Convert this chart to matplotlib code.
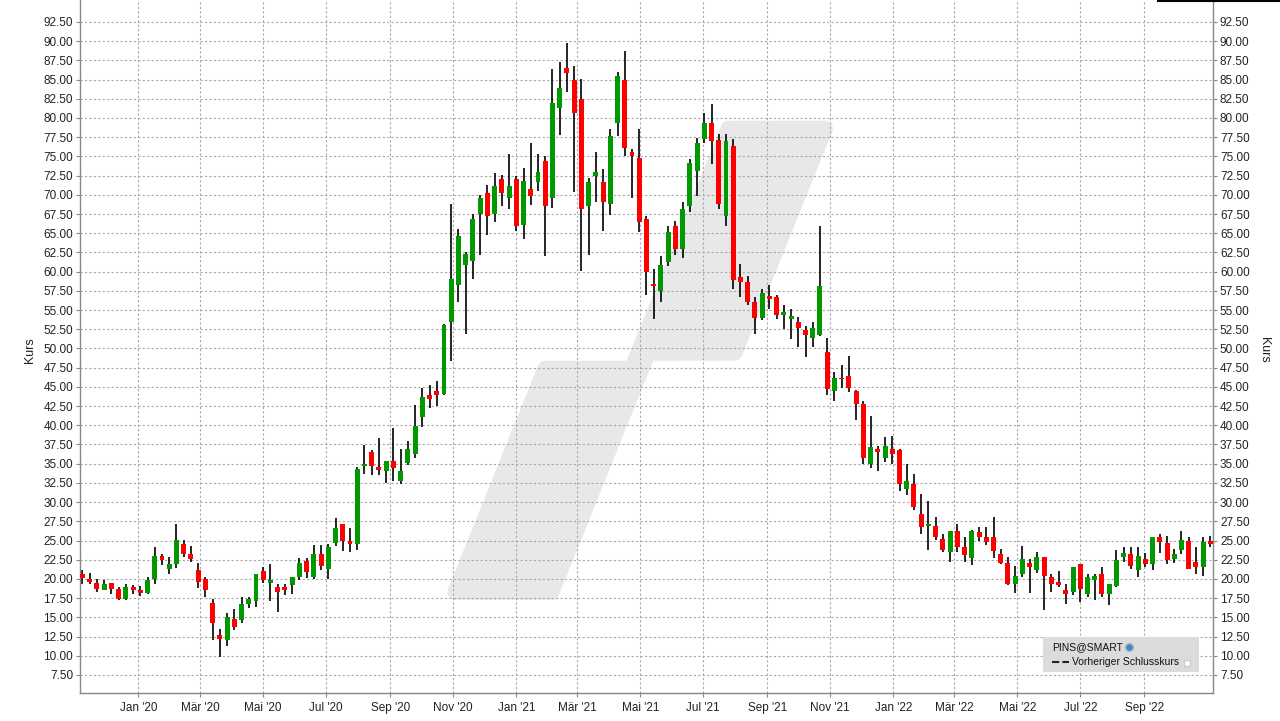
import numpy as np
import pandas as pd
import matplotlib

matplotlib.use('Agg')
import matplotlib.pyplot as plt
import matplotlib.dates as mdates
from matplotlib.patches import Polygon, Rectangle
from matplotlib.lines import Line2D

# weekly candles (PINS), first week ending 2019-11-08
FIRST_WEEK = '2019-11-08'
opens = [20.7, 20.0, 19.5, 18.6, 19.5, 18.7, 17.4, 19.0, 18.5, 18.2,
         20.0, 23.0, 21.3, 22.0, 24.6, 23.2, 21.2, 20.0, 16.9, 12.7,
         12.1, 14.8, 14.6, 16.8, 17.1, 21.0, 19.5, 19.0, 18.9, 19.2,
         20.2, 22.3, 20.2, 23.3, 21.3, 24.7, 27.1, 25.0, 24.5, 34.7,
         36.5, 34.6, 34.1, 35.4, 32.8, 35.1, 36.3, 41.1, 44.0, 44.5,
         44.1, 53.4, 58.2, 60.9, 61.4, 67.5, 70.3, 67.5, 72.1, 69.6,
         72.0, 66.1, 70.8, 71.7, 74.4, 69.6, 81.3, 86.5, 85.0, 82.5,
         68.6, 72.4, 71.7, 68.8, 79.4, 85.0, 75.6, 74.8, 66.8, 58.4,
         57.5, 61.2, 66.0, 62.9, 68.5, 73.1, 77.3, 79.4, 77.2, 67.3,
         76.3, 59.3, 58.6, 56.1, 53.9, 56.8, 56.7, 54.3, 53.8, 53.4,
         52.4, 51.3, 51.7, 49.6, 44.5, 46.2, 46.4, 44.5, 42.8, 35.0,
         36.9, 35.7, 36.9, 36.8, 31.7, 32.3, 28.5, 26.9, 26.9, 25.2,
         23.5, 26.3, 24.2, 22.7, 26.1, 25.5, 25.5, 23.2, 22.1, 19.4,
         20.6, 22.1, 21.1, 22.8, 20.3, 19.6, 18.5, 18.3, 21.9, 18.1,
         19.8, 20.7, 18.1, 19.1, 22.8, 23.2, 21.2, 22.6, 21.9, 25.4,
         24.7, 22.6, 23.8, 25.0, 22.2, 21.5, 25.0]
highs = [21.1, 20.8, 20.0, 19.9, 19.5, 19.0, 19.4, 19.2, 19.1, 20.3,
         24.1, 23.2, 22.9, 27.2, 25.1, 24.3, 22.1, 20.2, 17.4, 13.5,
         15.6, 16.1, 17.7, 17.7, 20.7, 21.5, 22.0, 19.3, 19.4, 20.3,
         22.7, 22.7, 24.4, 24.4, 24.5, 27.9, 27.2, 26.6, 34.6, 37.4,
         36.8, 38.3, 35.4, 39.6, 36.9, 37.9, 42.6, 44.8, 45.2, 45.8,
         53.2, 68.8, 65.5, 62.6, 67.5, 70.0, 71.3, 72.9, 72.6, 75.3,
         72.5, 73.5, 76.8, 75.3, 75.1, 86.4, 87.3, 89.8, 86.8, 85.1,
         72.2, 75.6, 73.3, 78.6, 86.0, 88.7, 75.9, 78.6, 67.3, 60.3,
         62.0, 65.9, 66.6, 69.1, 74.6, 77.4, 80.6, 81.8, 77.9, 77.9,
         77.3, 61.0, 59.4, 56.7, 57.8, 58.2, 56.9, 55.6, 55.1, 54.1,
         52.9, 53.4, 66.0, 51.4, 46.9, 47.8, 49.0, 44.6, 43.2, 41.2,
         37.3, 38.5, 38.6, 36.9, 35.0, 33.6, 31.1, 30.2, 28.0, 25.9,
         26.3, 27.1, 25.4, 26.4, 26.8, 26.8, 28.0, 23.9, 22.9, 21.7,
         24.3, 22.6, 23.5, 22.8, 20.6, 21.0, 19.4, 21.5, 22.0, 20.7,
         20.7, 21.6, 19.4, 23.7, 24.2, 24.1, 24.1, 23.4, 25.5, 25.9,
         25.6, 23.9, 26.3, 25.4, 24.1, 25.4, 25.6]
lows = [19.4, 19.4, 18.3, 18.5, 18.0, 17.2, 17.3, 18.1, 17.8, 18.1,
        19.3, 21.8, 20.6, 21.4, 22.8, 22.2, 18.8, 17.7, 12.0, 9.9,
        11.3, 13.3, 14.3, 16.2, 16.3, 19.5, 17.1, 15.7, 17.9, 18.1,
        19.8, 20.1, 20.0, 21.1, 20.0, 24.3, 23.6, 23.5, 23.7, 33.7,
        33.5, 33.5, 32.5, 32.8, 32.4, 34.8, 35.7, 39.8, 42.2, 42.5,
        43.9, 48.4, 56.1, 51.9, 59.0, 62.2, 64.8, 66.4, 68.5, 68.2,
        65.3, 64.3, 68.7, 70.5, 62.0, 68.3, 77.8, 83.4, 70.4, 60.1,
        62.2, 69.0, 65.3, 67.4, 77.7, 75.1, 69.6, 65.2, 56.9, 53.8,
        56.0, 60.7, 62.2, 61.8, 67.8, 69.8, 76.7, 74.0, 68.2, 66.0,
        57.8, 56.7, 55.6, 51.9, 53.7, 55.2, 53.8, 52.5, 51.2, 50.2,
        48.9, 50.2, 51.6, 43.9, 43.1, 44.8, 44.3, 40.7, 35.0, 34.4,
        34.0, 35.2, 34.9, 31.5, 30.9, 29.0, 25.8, 23.8, 25.1, 23.5,
        22.2, 23.5, 22.2, 21.8, 24.9, 24.4, 22.7, 22.0, 19.2, 18.2,
        20.2, 18.2, 20.8, 16.0, 18.3, 19.0, 16.8, 17.9, 17.0, 17.6,
        17.2, 17.7, 16.6, 18.9, 22.2, 21.3, 20.2, 21.5, 21.1, 23.4,
        22.0, 22.1, 23.2, 21.3, 20.6, 20.4, 24.1]
closes = [20.1, 19.6, 18.7, 19.4, 18.7, 17.4, 19.0, 18.5, 18.2, 19.8,
          23.0, 22.4, 22.0, 25.1, 23.2, 22.6, 19.6, 18.5, 14.3, 12.2,
          15.0, 13.8, 16.8, 17.4, 20.6, 19.8, 19.8, 18.3, 18.6, 20.3,
          22.1, 20.9, 23.2, 21.7, 24.1, 26.6, 24.9, 24.5, 34.3, 35.0,
          34.7, 34.2, 35.3, 34.4, 34.1, 36.9, 39.9, 43.7, 43.4, 44.0,
          53.0, 59.0, 64.7, 62.3, 66.8, 69.6, 67.3, 71.1, 70.3, 71.1,
          65.9, 71.8, 69.8, 73.0, 68.5, 81.9, 83.9, 85.9, 80.6, 68.1,
          71.7, 73.0, 69.0, 77.7, 85.5, 76.1, 75.0, 66.4, 59.9, 58.1,
          60.8, 65.2, 62.9, 68.2, 74.2, 76.8, 79.3, 77.0, 68.8, 77.0,
          58.9, 58.7, 56.0, 53.9, 57.2, 56.5, 54.3, 54.8, 54.2, 52.6,
          51.7, 52.6, 58.1, 44.7, 46.1, 46.0, 44.8, 42.8, 35.8, 37.2,
          36.5, 37.3, 36.3, 32.4, 32.7, 29.4, 26.8, 27.2, 25.4, 23.8,
          26.3, 24.2, 23.1, 26.3, 25.5, 24.8, 23.6, 22.1, 19.4, 20.4,
          22.6, 21.5, 22.9, 20.4, 19.4, 19.2, 18.1, 21.5, 18.7, 20.2,
          20.4, 18.1, 19.4, 22.5, 23.4, 21.7, 23.0, 22.0, 25.5, 24.8,
          22.5, 23.3, 25.1, 21.3, 21.5, 24.8, 24.6]

month_ticks = ['2020-01-01', '2020-03-01', '2020-05-01', '2020-07-01', '2020-09-01',
               '2020-11-01', '2021-01-01', '2021-03-01', '2021-05-01', '2021-07-01',
               '2021-09-01', '2021-11-01', '2022-01-01', '2022-03-01', '2022-05-01',
               '2022-07-01', '2022-09-01']
month_labels = ["Jan '20", "Mär '20", "Mai '20", "Jul '20", "Sep '20", "Nov '20",
                "Jan '21", "Mär '21", "Mai '21", "Jul '21", "Sep '21", "Nov '21",
                "Jan '22", "Mär '22", "Mai '22", "Jul '22", "Sep '22"]

GREEN = '#009a00'
RED = '#ff0000'
W, H = 1280, 721
AX_L, AX_R, AX_T, AX_B = 80, 1213, 0, 693   # axes box, pixels from top-left

plt.rcParams['font.family'] = ['Liberation Sans', 'DejaVu Sans']

fig = plt.figure(figsize=(W / 100, H / 100), dpi=100)
ax = fig.add_axes([AX_L / W, 1 - AX_B / H, (AX_R - AX_L) / W, (AX_B - AX_T) / H])


def fig_xy(px, py):
    return px / W, 1 - py / H


# background logo watermark: outline shrunk by ~8 px, a thick round-joined
# stroke grows it back and rounds the outer corners
logo_px = [(728.7, 128.7), (824.9, 128.7), (734.6, 352.7), (647.9, 352.7),
           (551.5, 592.0), (455.4, 592.0), (545.4, 368.7), (632.0, 368.7)]
logo = Polygon([fig_xy(*p) for p in logo_px], closed=True, transform=fig.transFigure,
               facecolor='#e8e8e8', edgecolor='#e8e8e8', lw=11.5, joinstyle='round',
               zorder=0.1)
ax.add_patch(logo)

x = mdates.date2num(pd.date_range(FIRST_WEEK, periods=len(opens), freq='7D'))
o = np.array(opens)
c = np.array(closes)
up = c >= o
colors = np.where(up, GREEN, RED)
body_lo = np.minimum(o, c)
body_h = np.maximum(np.abs(c - o), 0.15)

ax.vlines(x, lows, highs, color='black', lw=1.2, zorder=2)
ax.bar(x, body_h, bottom=body_lo, width=4.8, color=colors, lw=0, zorder=3)

jan20 = mdates.date2num(pd.Timestamp('2020-01-01'))
ax.set_xlim(jan20 - 56.4, jan20 + 1040.5)
ax.set_ylim(5.15, 95.36)

ax.set_xticks(mdates.date2num(pd.to_datetime(month_ticks)))
ax.set_xticklabels(month_labels)
yt = np.arange(7.5, 92.6, 2.5)
ax.set_yticks(yt)
ax.set_yticklabels([f'{v:.2f}' for v in yt])

ax.set_axisbelow(True)
ax.grid(True, color='#a8a8a8', linestyle=(0, (2, 2)), lw=0.8)
ax.tick_params(axis='y', which='both', left=True, right=True, labelleft=True,
               labelright=True, length=3, pad=2, labelsize=8.5,
               colors='#888888', labelcolor='#222222')
ax.tick_params(axis='x', length=3, pad=3.5, labelsize=8.5, colors='#888888',
               labelcolor='#222222')
for s in ['left', 'right', 'bottom']:
    ax.spines[s].set_color('#888888')
    ax.spines[s].set_linewidth(1.0)
ax.spines['top'].set_visible(False)

fig.text(*fig_xy(30, 350), 'Kurs', rotation=90, ha='center', va='center',
         fontsize=9, color='#222222')
fig.text(*fig_xy(1264, 350), 'Kurs', rotation=270, ha='center', va='center',
         fontsize=9, color='#222222')

# legend box (bottom right)
lx0, ly0 = fig_xy(1043, 672)
lx1, ly1 = fig_xy(1199, 637)
fig.add_artist(Rectangle((lx0, ly0), lx1 - lx0, ly1 - ly0, transform=fig.transFigure,
                         facecolor='#dcdcdc', edgecolor='none', zorder=4))
fig.text(*fig_xy(1052, 647), 'PINS@SMART', ha='left', va='center', fontsize=7.5,
         color='#111111', zorder=5)
fig.add_artist(Line2D(*zip(fig_xy(1129, 647)), marker='o', markersize=5.5,
                      markerfacecolor='#4f86b8', markeredgecolor='#8fb6d8',
                      transform=fig.transFigure, zorder=5))
p0, p1 = fig_xy(1052, 662), fig_xy(1069, 662)
fig.add_artist(Line2D([p0[0], p1[0]], [p0[1], p1[1]], color='#222222', lw=1.5,
                      linestyle=(0, (3.5, 1.5)), transform=fig.transFigure, zorder=5))
fig.text(*fig_xy(1072, 662), 'Vorheriger Schlusskurs', ha='left', va='center',
         fontsize=7.5, color='#111111', zorder=5)
fig.add_artist(Line2D(*zip(fig_xy(1187, 663)), marker='s', markersize=5,
                      markerfacecolor='white', markeredgecolor='#cccccc',
                      transform=fig.transFigure, zorder=5))

# edge of a tab above the chart, top right
t0, t1 = fig_xy(1158, 0.5), fig_xy(1280, 0.5)
fig.add_artist(Line2D([t0[0], t1[0]], [t0[1], t1[1]], color='black', lw=1.5,
                      transform=fig.transFigure))

fig.savefig('out.png', dpi=100)
